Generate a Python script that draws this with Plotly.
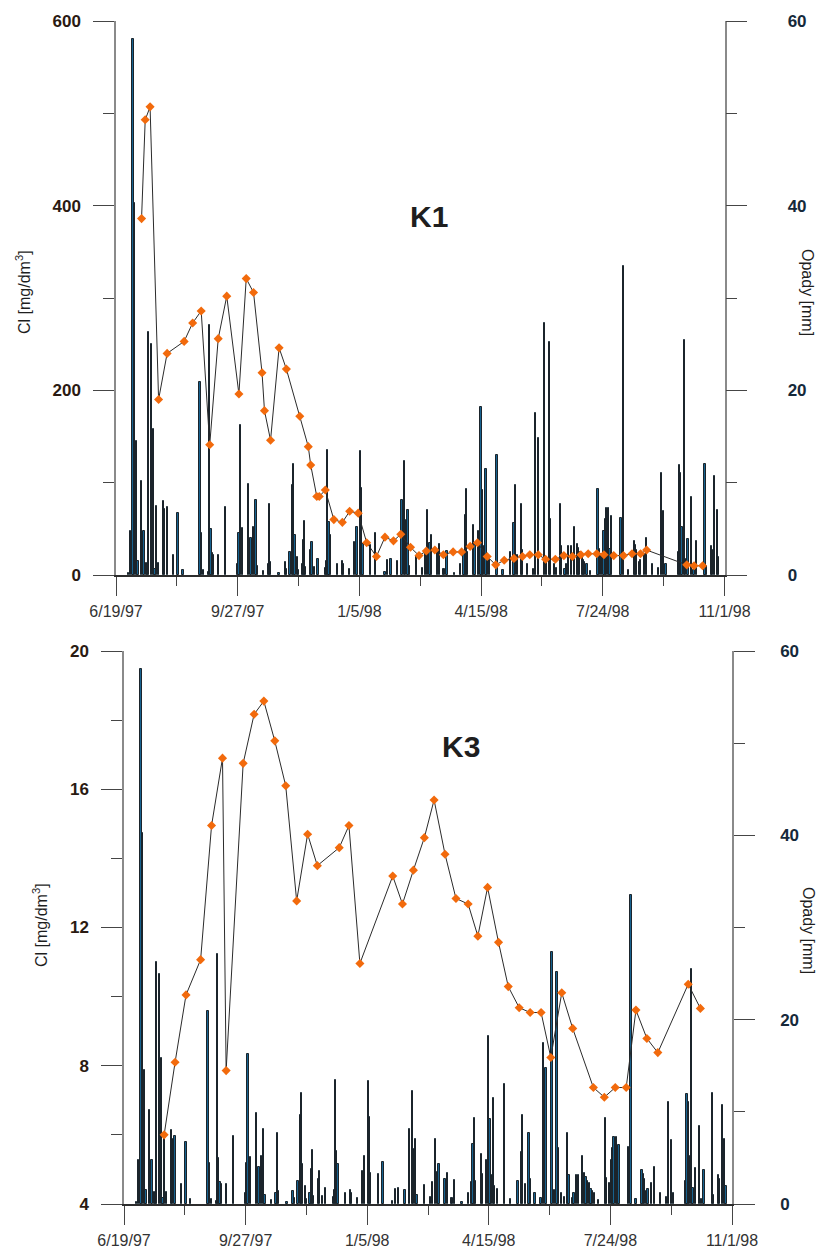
import pandas as pd
import plotly.graph_objects as go

START = "1997-06-19"
END = "1998-11-01"
DAY_MS = 86400000

# daily precipitation (Opady) - day number counted from 6/19/97, value in mm
rain_day = [10, 12, 14, 15, 17, 18, 21, 23, 25, 26, 27, 29, 31, 32, 33, 35, 39, 40, 42, 47,
            51, 55, 69, 70, 72, 76, 77, 78, 79, 80, 84, 90, 100, 101, 102, 104, 109, 111, 113, 115,
            116, 121, 125, 126, 127, 134, 139, 140, 143, 145, 146, 147, 149, 150, 153, 154, 155, 156, 160, 161,
            163, 166, 172, 173, 174, 175, 176, 182, 186, 187, 192, 196, 198, 201, 202, 203, 209, 213, 221, 223,
            226, 231, 235, 237, 238, 240, 241, 247, 252, 254, 256, 258, 259, 264, 266, 269, 270, 272, 278, 283,
            286, 287, 288, 289, 294, 295, 298, 300, 301, 302, 304, 305, 307, 313, 318, 324, 327, 328, 330, 333,
            334, 338, 343, 345, 347, 352, 354, 356, 357, 360, 362, 365, 366, 369, 370, 372, 374, 377, 379, 380,
            381, 383, 384, 385, 387, 390, 396, 397, 399, 401, 402, 403, 405, 406, 407, 415, 417, 421, 426, 427,
            428, 430, 431, 434, 436, 441, 446, 448, 450, 452, 462, 463, 464, 465, 467, 468, 470, 473, 475, 477,
            484, 485, 489, 490, 492, 494, 495]
rain_mm = [0.2, 4.8, 58.0, 40.3, 14.5, 1.5, 10.2, 4.8, 1.3, 1.0, 26.3, 25.0, 15.8, 0.6, 7.5, 1.3, 8.0, 7.1, 7.4, 2.2,
           6.7, 0.5, 20.9, 4.5, 0.5, 0.3, 27.1, 5.0, 2.4, 2.2, 2.2, 7.4, 1.2, 4.5, 16.3, 5.1, 9.9, 4.0, 5.2, 8.1,
           1.0, 0.4, 1.2, 7.7, 1.4, 0.2, 1.4, 0.6, 2.5, 9.7, 12.0, 4.3, 2.0, 0.5, 1.2, 3.8, 5.9, 0.9, 2.7, 3.6,
           0.9, 1.7, 0.8, 1.5, 13.5, 5.7, 4.3, 1.2, 1.5, 1.2, 0.7, 3.6, 5.2, 13.4, 9.4, 3.4, 3.3, 4.6, 0.3, 1.6,
           1.7, 1.5, 8.1, 12.3, 6.0, 7.0, 1.0, 2.1, 0.8, 2.4, 7.0, 3.5, 4.3, 2.7, 3.4, 0.6, 0.6, 2.6, 0.2, 1.2,
           2.4, 6.5, 9.3, 2.5, 5.4, 3.3, 4.8, 18.2, 9.2, 3.1, 11.5, 1.9, 1.6, 13.0, 0.5, 2.5, 5.6, 9.7, 2.2, 7.7,
           2.7, 1.2, 0.6, 17.5, 14.8, 27.3, 1.5, 25.2, 6.1, 1.2, 0.8, 7.7, 3.1, 0.6, 1.2, 3.1, 3.1, 5.2, 3.4, 2.9,
           2.5, 2.3, 1.6, 1.4, 1.2, 0.4, 9.3, 2.8, 2.3, 4.8, 6.1, 7.3, 7.3, 2.8, 6.4, 6.2, 33.5, 0.5, 3.7, 3.3,
           2.7, 1.4, 1.6, 2.3, 4.0, 1.2, 0.8, 11.1, 6.9, 1.2, 2.5, 11.9, 11.1, 5.2, 25.5, 1.7, 3.9, 8.5, 0.5, 3.7,
           12.0, 1.0, 3.1, 2.7, 10.7, 7.0, 1.9]

# chloride, K1 [mg/dm3]
k1_day = [21, 24, 28, 35, 42, 56, 63, 70, 77, 84, 91, 101, 107, 113, 120, 122, 127, 134, 140, 151,
          158, 160, 165, 167, 172, 179, 186, 192, 199, 206, 214, 221, 228, 234, 242, 249, 255, 262, 269, 277,
          284, 291, 297, 305, 312, 319, 327, 334, 340, 347, 353, 361, 368, 375, 382, 388, 395, 401, 409, 417,
          424, 431, 436, 469, 475, 482]
k1_cl = [386, 493, 507, 190, 240, 253, 273, 286, 141, 256, 302, 196, 321, 306, 219, 178, 146, 246, 223, 172,
         139, 119, 85, 85, 92, 60, 57, 69, 67, 35, 20, 41, 37, 44, 30, 21, 26, 27, 22, 25,
         25, 31, 35, 20, 11, 16, 18, 20, 22, 22, 17, 17, 21, 20, 22, 23, 23, 22, 21, 21,
         23, 23, 27, 11, 10, 10]

# chloride, K3 [mg/dm3]
k3_day = [33, 42, 51, 63, 72, 81, 84, 98, 107, 115, 124, 133, 142, 151, 159, 177, 185, 194, 221, 229,
          238, 247, 255, 264, 273, 283, 291, 299, 308, 316, 325, 334, 343, 351, 360, 369, 386, 395, 404, 413,
          421, 430, 439, 464, 474]
k3_cl = [6.0, 8.1, 10.05, 11.07, 14.95, 16.9, 7.86, 16.75, 18.17, 18.55, 17.4, 16.1, 12.77, 14.7, 13.79, 14.31,
         14.95, 10.96, 13.49, 12.68, 13.66, 14.6, 15.69, 14.12, 12.84, 12.68, 11.75, 13.16, 11.57, 10.29, 9.68,
         9.54, 9.54, 8.24, 10.11, 9.08, 7.37, 7.09, 7.37, 7.37, 9.61, 8.79, 8.38, 10.36, 9.66]


def to_dates(days):
    base = pd.Timestamp(START)
    return [(base + pd.Timedelta(days=int(d))).strftime("%Y-%m-%d") for d in days]


W, H = 819, 1250
FONT = "Liberation Sans, Arial, sans-serif"
BAR_FILL = "#17628f"
BAR_EDGE = "#1b242b"
LINE_C = "#2b2b2b"
MARK_C = "#f26a0c"
AX_GRAY = "#8a8a8a"
TICK_C = "#454545"


def fx(px):
    return px / W


def fy(py):
    return 1 - py / H


fig = go.Figure()

for xa, ya_r, ya_l, cd, cv in [("x", "y", "y2", k1_day, k1_cl), ("x2", "y3", "y4", k3_day, k3_cl)]:
    fig.add_trace(go.Bar(
        x=to_dates(rain_day), y=rain_mm, width=DAY_MS,
        marker=dict(color=BAR_FILL, line=dict(color=BAR_EDGE, width=1)),
        xaxis=xa, yaxis=ya_r, showlegend=False, hoverinfo="skip"))
    fig.add_trace(go.Scatter(
        x=to_dates(cd), y=cv, mode="lines+markers",
        line=dict(color=LINE_C, width=1),
        marker=dict(symbol="diamond", size=7, color=MARK_C, line=dict(width=0)),
        xaxis=xa, yaxis=ya_l, showlegend=False))


def xaxis_cfg(domain, anchor):
    return dict(
        domain=domain, anchor=anchor, type="date", range=[START, END], automargin=False,
        tick0=START, dtick=100 * DAY_MS, tickformat="%-m/%-d/%y",
        ticks="outside", ticklen=19, tickwidth=1, tickcolor=TICK_C,
        minor=dict(tick0=START, dtick=50 * DAY_MS, ticks="outside", ticklen=9,
                   tickwidth=1, tickcolor=TICK_C, showgrid=False),
        showline=True, linecolor="#2d2d2d", linewidth=1.5,
        showgrid=False, zeroline=False, ticklabelstandoff=2,
        tickfont=dict(family=FONT, size=16, color="#333333"))


def yaxis_cfg(domain, anchor, rng, dtick, minor, side, color, standoff, overlaying=None, tick0=0):
    d = dict(
        domain=domain, anchor=anchor, range=rng, tick0=tick0, dtick=dtick, side=side,
        automargin=False,
        ticks="outside", ticklen=21, tickwidth=1, tickcolor=TICK_C,
        minor=dict(tick0=tick0, dtick=minor, ticks="outside", ticklen=11, tickwidth=1,
                   tickcolor=TICK_C, showgrid=False),
        showline=True, linecolor=AX_GRAY, linewidth=1.5,
        showgrid=False, zeroline=False, ticklabelstandoff=standoff,
        tickfont=dict(family=FONT, size=17, color=color, weight="bold"))
    if overlaying:
        d["overlaying"] = overlaying
        d.pop("domain")
    return d


top_dom = [fy(575), fy(21)]
bot_dom = [fy(1204), fy(651)]

fig.update_layout(
    width=W, height=H, margin=dict(l=0, r=0, t=0, b=0, pad=0, autoexpand=False),
    paper_bgcolor="white", plot_bgcolor="white",
    bargap=0, showlegend=False,
    xaxis=xaxis_cfg([fx(116), fx(724.5)], "y"),
    yaxis=yaxis_cfg(top_dom, "x", [0, 60], 20, 10, "right", "#15293a", 37),
    yaxis2=yaxis_cfg(None, "x", [0, 600], 200, 100, "left", "#2a1a12", 9, overlaying="y"),
    xaxis2=xaxis_cfg([fx(124), fx(732)], "y3"),
    yaxis3=yaxis_cfg(bot_dom, "x2", [0, 60], 20, 10, "right", "#15293a", 22),
    yaxis4=yaxis_cfg(None, "x2", [4, 20], 4, 2, "left", "#2a1a12", 9, overlaying="y3", tick0=4),
)

ann = [
    dict(text="<b>K1</b>", x=fx(429), y=fy(217), size=30, angle=0),
    dict(text="<b>K3</b>", x=fx(461), y=fy(746), size=30, angle=0),
    dict(text="Cl [mg/dm<sup>3</sup>]", x=fx(23), y=fy(292), size=16, angle=-90),
    dict(text="Opady [mm]", x=fx(808), y=fy(292), size=16, angle=90),
    dict(text="Cl [mg/dm<sup>3</sup>]", x=fx(40), y=fy(925), size=16, angle=-90),
    dict(text="Opady [mm]", x=fx(809), y=fy(930), size=16, angle=90),
]
for a in ann:
    fig.add_annotation(text=a["text"], x=a["x"], y=a["y"], xref="paper", yref="paper",
                       xanchor="center", yanchor="middle", showarrow=False,
                       textangle=a["angle"],
                       font=dict(family=FONT, size=a["size"], color="#1e1e1e"))

fig.write_html("out.html")
